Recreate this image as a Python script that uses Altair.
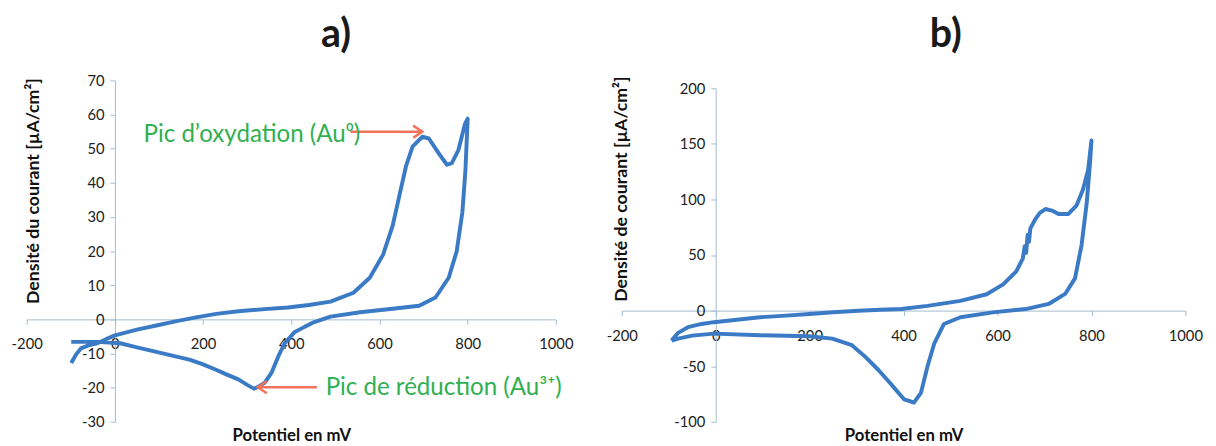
import altair as alt
import pandas as pd

# ---------------- data ----------------
# Panel a) : anodic (forward) branch then cathodic (reverse) branch
a_fwd_x = [-99, -88, -77, -60, -40, -20, 0, 50, 94, 140, 184, 230, 280, 340, 392, 440, 489,
           541, 578, 608, 630, 645, 660, 675, 697, 712, 734, 753, 764, 779, 794, 800]
a_fwd_y = [-12.8, -10.3, -8.5, -7.6, -7.0, -5.8, -4.7, -3.0, -1.8, -0.5, 0.6, 1.6, 2.4, 3.0, 3.5, 4.2, 5.2,
           7.8, 12.2, 18.9, 27.5, 36.2, 44.8, 50.6, 53.5, 53.0, 48.7, 45.3, 45.8, 49.6, 57.3, 58.8]
a_rev_x = [795, 788, 775, 757, 727, 690, 630, 556, 489, 452, 430, 407, 385, 370, 355, 340, 325, 315,
           300, 280, 254, 228, 200, 169, 130, 94, 50, 12, -40, -99]
a_rev_y = [43.9, 31.4, 19.9, 12.2, 6.4, 4.0, 3.1, 2.1, 0.8, -0.8, -2.2, -3.8, -7.0, -11.0, -15.7, -18.5,
           -19.8, -20.3, -19.2, -17.6, -16.2, -14.7, -13.2, -11.8, -10.6, -9.5, -8.2, -7.0, -6.6, -6.6]

# Panel b)
b_fwd_x = [-94, -80, -59, -30, -4, 50, 94, 150, 199, 250, 304, 350, 395, 451, 521, 577, 612, 640, 654,
           658, 661, 664, 667, 670, 681, 690, 702, 716, 730, 751, 768, 782, 793, 800]
b_fwd_y = [-27, -20, -14.9, -12, -10.4, -8, -6, -4.5, -3, -1.5, -0.1, 0.8, 1.4, 4.3, 8.8, 14.7, 23.6, 35.3,
           47.1, 58, 52, 68, 62, 74, 82.6, 88, 91.4, 90, 87, 87, 94.4, 109, 126.8, 153]
b_rev_x = [797, 790, 779, 765, 744, 709, 660, 590, 521, 486, 465, 451, 437, 422, 410, 401, 380, 374,
           346, 318, 290, 248, 199, 94, -4, -50, -80, -94]
b_rev_y = [133, 97, 59, 29, 15, 6, 1.4, -1.6, -6, -12, -30, -50, -74, -82.7, -81, -79.8, -69.5, -66.5,
           -53.2, -41.4, -31.1, -25.2, -23.1, -22.2, -20.7, -22.5, -25.2, -27]

x_ticks = [-200, 0, 200, 400, 600, 800, 1000]
a_yticks = [-30, -20, -10, 0, 10, 20, 30, 40, 50, 60, 70]
b_yticks = [-100, -50, 0, 50, 100, 150, 200]

ann_text = ["Pic d\u2019oxydation (Au\u2070)", "Pic de r\u00e9duction (Au\u00b3\u207a)"]
ann_x = [65, 478]
ann_y = [54, -20]
arr_x = [534, 458]
arr_x2 = [697, 324]
arr_y = [55, -19.9]
arr_angle = [0, 180]

# ---------------- styling ----------------
BLUE = "#3B7BC6"
AXIS = "#A3BCCD"
GREEN = "#30B050"
ARROW = "#F2735A"
FONT = "Lato"


def loop_df(fx, fy, rx, ry):
    xs = list(fx) + list(rx)
    ys = list(fy) + list(ry)
    return pd.DataFrame({"E": xs, "J": ys, "i": list(range(len(xs)))})


def axis_x(offset, title_y):
    return alt.Axis(values=x_ticks, labelExpr="datum.value + ''", title="Potentiel en mV",
                    offset=offset, labelPadding=13, titleFontSize=17,
                    labelOverlap=False, labelFlush=False,
                    titleY=title_y, titleBaseline="middle")


def axis_y(offset, tx, ty, title, vals):
    return alt.Axis(values=vals, labelExpr="datum.value + ''", title=title, offset=offset,
                    labelPadding=6, titleFontSize=18, labelOverlap=False, labelFlush=False,
                    titleX=tx, titleY=ty, titleAngle=-90, titleAlign="center",
                    titleBaseline="middle")


df_a = loop_df(a_fwd_x, a_fwd_y, a_rev_x, a_rev_y)
df_b = loop_df(b_fwd_x, b_fwd_y, b_rev_x, b_rev_y)
df_ann = pd.DataFrame({"E": ann_x, "J": ann_y, "t": ann_text})
df_arr = pd.DataFrame({"E": arr_x, "E2": arr_x2, "J": arr_y, "ang": arr_angle})

W_A, W_B, H = 538, 573, 347

xs_a = alt.Scale(domain=[-200, 1000], nice=False, zero=False)
ys_a = alt.Scale(domain=[-30, 70], nice=False, zero=False)
ax_a_x = axis_x(-104.1, 118)
ax_a_y = axis_y(-89.7, -83, 112, "Densit\u00e9 du courant [\u00b5A/cm\u00b2]", a_yticks)

line_a = alt.Chart(df_a).mark_line(color=BLUE, strokeWidth=4, strokeJoin="round").encode(
    x=alt.X("E:Q", scale=xs_a, axis=ax_a_x),
    y=alt.Y("J:Q", scale=ys_a, axis=ax_a_y),
    order="i:Q",
)

rules_a = alt.Chart(df_arr).mark_rule(color=ARROW, strokeWidth=2.5).encode(
    x=alt.X("E:Q", axis=ax_a_x), x2="E2:Q", y=alt.Y("J:Q", axis=ax_a_y)
)
heads_a = alt.Chart(df_arr).mark_point(
    shape="M-1.5,-1L0,0L-1.5,1", filled=False, color=ARROW, strokeWidth=2.5, size=150, opacity=1
).encode(
    x=alt.X("E2:Q", axis=ax_a_x), y=alt.Y("J:Q", axis=ax_a_y), angle=alt.Angle("ang:Q", scale=None)
)
text_a = alt.Chart(df_ann).mark_text(
    align="left", baseline="middle", font=FONT, fontSize=24.5, color=GREEN
).encode(x=alt.X("E:Q", axis=ax_a_x), y=alt.Y("J:Q", axis=ax_a_y), text="t:N")

panel_a = alt.layer(line_a, rules_a, heads_a, text_a).properties(
    width=W_A, height=H,
    title=alt.TitleParams("a)", fontSize=40, fontWeight="bold", font=FONT, anchor="middle",
                          frame="group", dx=45.5, offset=-12.5, baseline="alphabetic", color="#1a1a1a"),
)

xs_b = alt.Scale(domain=[-200, 1000], nice=False, zero=False)
ys_b = alt.Scale(domain=[-100, 200], nice=False, zero=False, range=[H, 8])

panel_b = alt.Chart(df_b).mark_line(color=BLUE, strokeWidth=4, strokeJoin="round").encode(
    x=alt.X("E:Q", scale=xs_b, axis=axis_x(-113, 127)),
    y=alt.Y("J:Q", scale=ys_b, axis=axis_y(-95.5, -96, 110, "Densit\u00e9 de courant [\u00b5A/cm\u00b2]", b_yticks)),
    order="i:Q",
).properties(
    width=W_B, height=H,
    title=alt.TitleParams("b)", fontSize=40, fontWeight="bold", font=FONT, anchor="middle",
                          frame="group", dx=43, offset=-11, baseline="alphabetic", color="#1a1a1a"),
)

chart = alt.hconcat(panel_a, panel_b, spacing=67, bounds="flush").configure(
    font=FONT, padding={"left": 3, "top": 3, "right": 5, "bottom": 0}
).configure_axis(
    grid=False, domainColor=AXIS, tickColor=AXIS, tickSize=5, labelFontSize=15,
    labelColor="#222", labelFlush=False, labelOverlap=False, titleFontWeight="bold",
    titleColor="#111", labelFont=FONT, titleFont=FONT,
).configure_view(stroke=None)

chart.save("out.html", embed_options={"renderer": "svg", "actions": False})
